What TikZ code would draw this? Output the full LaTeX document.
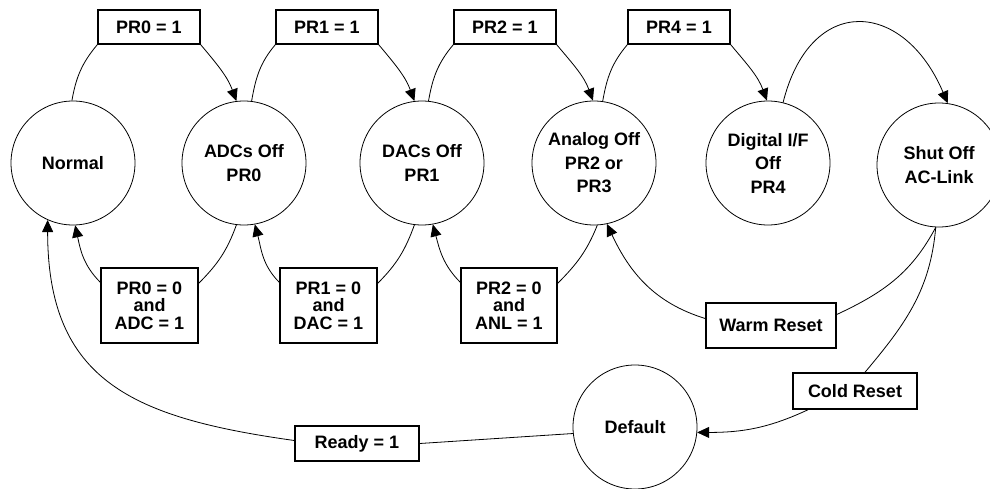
\documentclass[tikz,border=0pt]{standalone}
\usepackage{fontspec}
\setmainfont{Liberation Sans}
\usetikzlibrary{arrows.meta}
\begin{document}
\begin{tikzpicture}[x=1pt,y=1pt,
  state/.style={circle,draw,line width=0.8pt,minimum size=124pt,inner sep=0pt,align=center,
    font=\fontsize{18}{23.5}\selectfont\bfseries},
  cond/.style={rectangle,draw,line width=1.5pt,fill=white,inner sep=0pt,align=center,
    font=\fontsize{18}{17.5}\selectfont\bfseries},
  link/.style={line width=0.8pt},
  arr/.style={line width=0.8pt,-{Triangle[length=12pt,width=11pt]}}]
\useasboundingbox[fill=white] (0,0) rectangle (990,-489);
% states
\node[state] (normal) at (73,-163) {Normal};
\node[state] (adc) at (244,-163) {ADCs Off\\PR0};
\node[state] (dac) at (422,-163) {DACs Off\\PR1};
\node[state] (ana) at (594,-163) {Analog Off\\PR2 or\\PR3};
\node[state] (dig) at (768,-163) {Digital I/F\\Off\\PR4};
\node[state] (shut) at (939,-165) {Shut Off\\AC-Link};
\node[state] (def) at (635,-427) {Default};
% conditions
\node[cond,minimum width=102pt,minimum height=34pt] (p0) at (149,-27) {PR0 = 1};
\node[cond,minimum width=102pt,minimum height=34pt] (p1) at (327,-27) {PR1 = 1};
\node[cond,minimum width=102pt,minimum height=34pt] (p2) at (505,-27) {PR2 = 1};
\node[cond,minimum width=102pt,minimum height=34pt] (p4) at (679,-27) {PR4 = 1};
\node[cond,minimum width=97pt,minimum height=75pt] (q0) at (149.5,-305.5) {PR0 = 0\\and\\ADC = 1};
\node[cond,minimum width=97pt,minimum height=75pt] (q1) at (328.5,-305.5) {PR1 = 0\\and\\DAC = 1};
\node[cond,minimum width=96pt,minimum height=75pt] (q2) at (509,-305.5) {PR2 = 0\\and\\ANL = 1};
\node[cond,minimum width=124pt,minimum height=35pt] (ready) at (357,-443.5) {Ready = 1};
\node[cond,minimum width=130pt,minimum height=45pt] (warm) at (771,-325.5) {Warm Reset};
\node[cond,minimum width=124pt,minimum height=36pt] (cold) at (855,-391) {Cold Reset};
% top transitions
\draw[link] (normal.91) to[out=80,in=-130] (p0.south west);
\draw[arr] (p0.south east) to[out=-50,in=110] (adc.97);
\draw[link] (adc.83) to[out=80,in=-130] (p1.south west);
\draw[arr] (p1.south east) to[out=-50,in=110] (dac.97);
\draw[link] (dac.84) to[out=80,in=-130] (p2.south west);
\draw[arr] (p2.south east) to[out=-50,in=110] (ana.91);
\draw[link] (ana.82) to[out=80,in=-130] (p4.south west);
\draw[arr] (p4.south east) to[out=-50,in=110] (dig.91);
\draw[arr] (dig.76) to[out=76,in=113,looseness=1.75] (shut.82);
% bottom transitions
\draw[link] (adc.-97) to[out=-110,in=45] ([yshift=-16pt]q0.north east);
\draw[arr] ([yshift=-15pt]q0.north west) to[out=135,in=-78] (normal.-88);
\draw[link] (dac.-97) to[out=-110,in=45] ([yshift=-16pt]q1.north east);
\draw[arr] ([yshift=-15pt]q1.north west) to[out=135,in=-75] (adc.-80);
\draw[link] (ana.-87) to[out=-112,in=45] ([yshift=-16pt]q2.north east);
\draw[arr] ([yshift=-15pt]q2.north west) to[out=135,in=-75] (dac.-80);
% resets
\draw[link] (shut.-93) to[out=-118,in=25] ([yshift=11pt]warm.east);
\draw[arr] ([yshift=7pt]warm.west) to[out=163,in=-65] (ana.-78);
\draw[link] (shut.-93) to[out=-95,in=50] ([xshift=10pt]cold.north);
\draw[arr] ([xshift=-47pt]cold.south) to[out=-155,in=0] (def.-5);
\draw[link] (def.-174) -- (ready.east);
\draw[arr] ([yshift=3pt]ready.west) to[out=172,in=-90,looseness=1.25] (normal.-114);
\end{tikzpicture}
\end{document}
